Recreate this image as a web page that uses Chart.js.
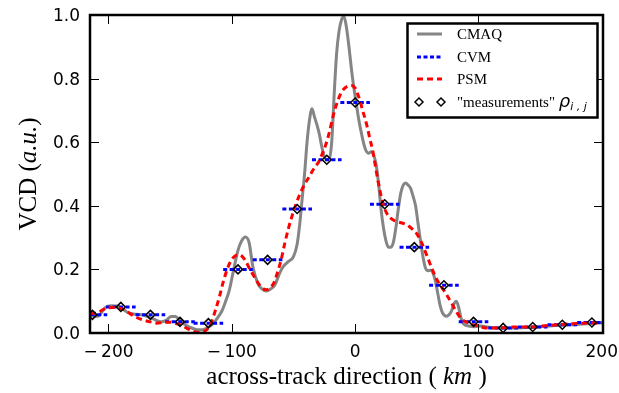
<!DOCTYPE html>
<html>
<head>
<meta charset="utf-8">
<script src="https://cdn.jsdelivr.net/npm/chart.js@4.4.1/dist/chart.umd.min.js"></script>
<style>
  html, body { margin: 0; padding: 0; background: #fff; }
  #wrap { width: 619px; height: 393px; }
</style>
</head>
<body>
<div id="wrap"><canvas id="c" width="619" height="393"></canvas></div>
<script>
// CMAQ model field (gray solid)
const cmaqX = [-215, -211, -208, -205, -202, -198, -193, -189, -185, -180, -175, -170, -165, -160, -157, -153,
  -149, -146, -143, -140, -136, -132, -128, -124, -120, -116, -112, -108, -105, -102, -99, -95, -92, -89, -86,
  -83, -79, -76, -72, -68, -65, -61, -58, -54, -50, -47, -45, -43, -41, -39, -37, -35, -33, -31, -29, -27, -25,
  -23, -21, -19, -17, -15, -13, -11, -9, -7, -5, -3, -1, 1, 3, 5, 7, 9, 11, 13, 15, 17, 19, 21, 23, 25, 27, 29,
  31, 33, 35, 37, 39, 41, 43, 45, 47, 49, 51, 53, 55, 57, 59, 61, 63, 65, 67, 69, 71, 74, 76, 78, 80, 82, 84, 86,
  88, 92, 97, 102, 106, 110, 120, 130, 140, 150, 160, 170, 180, 190, 201];
const cmaqY = [0.058, 0.052, 0.053, 0.068, 0.082, 0.086, 0.085, 0.078, 0.066, 0.06, 0.058, 0.054, 0.047, 0.038, 0.035, 0.041,
  0.052, 0.052, 0.044, 0.032, 0.022, 0.015, 0.01, 0.01, 0.016, 0.026, 0.045, 0.07, 0.1, 0.135, 0.19, 0.26, 0.29, 0.302, 0.285,
  0.21, 0.157, 0.14, 0.132, 0.14, 0.152, 0.19, 0.21, 0.225, 0.24, 0.28, 0.34, 0.42, 0.5, 0.6, 0.67, 0.705, 0.68, 0.655, 0.625, 0.585, 0.555,
  0.545, 0.548, 0.6, 0.75, 0.88, 0.95, 0.985, 0.995, 0.96, 0.9, 0.83, 0.77, 0.72, 0.67, 0.63, 0.595, 0.572, 0.565, 0.57, 0.56, 0.53, 0.47, 0.39, 0.33, 0.29, 0.27, 0.27,
  0.285, 0.33, 0.39, 0.44, 0.465, 0.472, 0.465, 0.455, 0.43, 0.4, 0.345, 0.29, 0.24, 0.205, 0.196, 0.197, 0.19, 0.165, 0.125, 0.085, 0.062, 0.053, 0.057, 0.068, 0.09, 0.1, 0.08, 0.045,
  0.028, 0.022, 0.02, 0.022, 0.02, 0.017, 0.016, 0.016, 0.017, 0.02, 0.023, 0.025, 0.027, 0.03, 0.032];

// PSM reconstruction (red dashed)
const psmX = [-215, -210, -206, -202, -197, -192, -186, -181, -176, -171, -166, -161, -156, -151, -146, -141, -136, -131,
  -127, -123, -119, -116, -113, -110, -107, -104, -101, -98, -95, -92, -89, -86, -83, -80, -77, -74, -72, -69, -66, -63,
  -60, -57, -54, -51, -48, -45, -42, -39, -36, -33, -30, -27, -24, -21, -18, -15, -12, -9, -6, -3, 0, 2, 4, 6, 8, 10,
  12, 14, 16, 18, 20, 22, 24, 27, 30, 34, 38, 42, 46, 50, 54, 58, 62, 66, 70, 74, 78, 82, 86, 90, 95, 100, 106, 117,
  130, 144, 157, 171, 185, 201];
const psmY = [0.062, 0.062, 0.07, 0.078, 0.08, 0.079, 0.07, 0.057, 0.047, 0.04, 0.035, 0.031, 0.033, 0.034, 0.031, 0.024, 0.014, 0.005,
  0.002, 0.004, 0.016, 0.04, 0.075, 0.115, 0.16, 0.198, 0.225, 0.24, 0.246, 0.242, 0.228, 0.205, 0.185, 0.165, 0.148, 0.138, 0.136, 0.142, 0.157, 0.19,
  0.23, 0.283, 0.33, 0.37, 0.405, 0.435, 0.46, 0.48, 0.5, 0.52, 0.535, 0.56, 0.59, 0.63, 0.68, 0.72, 0.75, 0.768, 0.776, 0.778, 0.77, 0.752, 0.73, 0.7, 0.675, 0.645,
  0.61, 0.578, 0.535, 0.49, 0.45, 0.415, 0.39, 0.368, 0.358, 0.35, 0.346, 0.34, 0.328, 0.312, 0.283, 0.245, 0.205, 0.17, 0.145, 0.122, 0.095, 0.068, 0.045, 0.035, 0.027, 0.022, 0.016, 0.016,
  0.019, 0.019, 0.024, 0.028, 0.031, 0.032];

// "measurements" and the CVM cell values
const measX = [-213, -190, -166, -142, -119, -95, -71, -47, -23, 0, 24, 48, 72, 96, 120, 144, 168, 192];
const measY = [0.057, 0.082, 0.057, 0.035, 0.031, 0.2, 0.23, 0.39, 0.545, 0.725, 0.405, 0.27, 0.15, 0.035, 0.016, 0.019, 0.026, 0.033];
const cvmY  = [0.057, 0.082, 0.057, 0.035, 0.031, 0.2, 0.23, 0.39, 0.545, 0.725, 0.405, 0.27, 0.15, 0.035, 0.016, 0.019, 0.026, 0.033];
const cvmHalf = 12;

const xTicks = [-200, -100, 0, 100, 200];
const yTicks = [0, 0.2, 0.4, 0.6, 0.8, 1.0];

function pts(xs, ys) { return xs.map((x, i) => ({x: x, y: ys[i]})); }

// CVM as separate horizontal pieces (null breaks the line)
const cvmData = [];
measX.forEach((x, i) => {
  cvmData.push({x: x - cvmHalf, y: cvmY[i]});
  cvmData.push({x: x + cvmHalf, y: cvmY[i]});
  cvmData.push({x: x + cvmHalf, y: null});
});

const SERIF = '"Liberation Serif", "Times New Roman", serif';
const SANS = '"DejaVu Sans", sans-serif';

function drawParts(ctx, parts, x, y, align) {
  let w = 0;
  parts.forEach(p => { ctx.font = p.font; w += ctx.measureText(p.text).width; });
  let cx = align === 'center' ? x - w / 2 : x;
  parts.forEach(p => {
    ctx.font = p.font;
    ctx.fillText(p.text, cx, y + (p.dy || 0));
    cx += ctx.measureText(p.text).width;
  });
}

function diamond(ctx, x, y, r) {
  ctx.beginPath();
  ctx.moveTo(x, y - r); ctx.lineTo(x + r, y); ctx.lineTo(x, y + r); ctx.lineTo(x - r, y);
  ctx.closePath();
  ctx.stroke();
}

const frame = {
  id: 'frame',
  afterDraw(chart) {
    const ctx = chart.ctx, a = chart.chartArea;
    const xs = chart.scales.x, ys = chart.scales.y;
    ctx.save();
    // inward ticks on all four sides
    ctx.strokeStyle = '#000';
    ctx.lineWidth = 1;
    ctx.beginPath();
    xTicks.forEach(v => {
      const px = Math.round(xs.getPixelForValue(v)) + 0.5;
      ctx.moveTo(px, a.bottom); ctx.lineTo(px, a.bottom - 9);
      ctx.moveTo(px, a.top); ctx.lineTo(px, a.top + 9);
    });
    yTicks.forEach(v => {
      const py = Math.round(ys.getPixelForValue(v)) + 0.5;
      ctx.moveTo(a.left, py); ctx.lineTo(a.left + 9, py);
      ctx.moveTo(a.right, py); ctx.lineTo(a.right - 9, py);
    });
    ctx.stroke();
    ctx.lineWidth = 2.5;
    ctx.strokeRect(a.left, a.top, a.right - a.left, a.bottom - a.top);

    // tick labels
    ctx.fillStyle = '#000';
    ctx.textBaseline = 'alphabetic';
    ctx.font = '17px ' + SANS;
    ctx.textAlign = 'right';
    yTicks.forEach(v => ctx.fillText(v.toFixed(1), a.left - 10, ys.getPixelForValue(v) + 6));
    ctx.textAlign = 'left';
    xTicks.forEach(v => {
      const px = xs.getPixelForValue(v);
      const num = String(Math.abs(v));
      if (v < 0) {
        drawParts(ctx, [{text: '\u2212', font: '17px ' + SANS}, {text: '\u2009' + num, font: '17px ' + SANS}], px, a.bottom + 24, 'center');
      } else {
        drawParts(ctx, [{text: num, font: '17px ' + SANS}], px, a.bottom + 24, 'center');
      }
    });

    // axis titles
    drawParts(ctx, [
      {text: 'across-track direction ( ', font: '25px ' + SERIF},
      {text: 'km', font: 'italic 25px ' + SERIF},
      {text: ' )', font: '25px ' + SERIF}
    ], (a.left + a.right) / 2, 384, 'center');
    ctx.save();
    ctx.translate(36, (a.top + a.bottom) / 2);
    ctx.rotate(-Math.PI / 2);
    drawParts(ctx, [
      {text: 'VCD (', font: '25px ' + SERIF},
      {text: 'a.u.', font: 'italic 25px ' + SERIF},
      {text: ')', font: '25px ' + SERIF}
    ], 0, 0, 'center');
    ctx.restore();

    // legend
    const L = 407.5, T = 23.5, W = 190, H = 94;
    ctx.fillStyle = '#fff';
    ctx.fillRect(L, T, W, H);
    ctx.lineWidth = 2.5;
    ctx.strokeStyle = '#000';
    ctx.strokeRect(L, T, W, H);
    const rows = [34, 57, 79, 102];
    const sx0 = 417, sx1 = 442, tx = 457;
    const samples = chart.data.datasets;
    // CMAQ
    ctx.setLineDash([]);
    ctx.lineWidth = 3; ctx.strokeStyle = samples[0].borderColor;
    ctx.beginPath(); ctx.moveTo(sx0, rows[0]); ctx.lineTo(sx1, rows[0]); ctx.stroke();
    // CVM
    ctx.setLineDash(samples[1].borderDash); ctx.strokeStyle = samples[1].borderColor;
    ctx.beginPath(); ctx.moveTo(sx0, rows[1]); ctx.lineTo(sx1, rows[1]); ctx.stroke();
    // PSM
    ctx.setLineDash(samples[2].borderDash); ctx.strokeStyle = samples[2].borderColor;
    ctx.beginPath(); ctx.moveTo(sx0, rows[2]); ctx.lineTo(sx1, rows[2]); ctx.stroke();
    ctx.setLineDash([]);
    ctx.lineWidth = 1.5; ctx.strokeStyle = '#000';
    diamond(ctx, 419, rows[3], 4);
    diamond(ctx, 441, rows[3], 4);

    ctx.fillStyle = '#000';
    ctx.textAlign = 'left';
    ctx.textBaseline = 'alphabetic';
    ctx.font = '15px ' + SERIF;
    ctx.fillText(samples[0].label, tx, rows[0] + 5);
    ctx.fillText(samples[1].label, tx, rows[1] + 5);
    ctx.fillText(samples[2].label, tx, rows[2] + 5);
    drawParts(ctx, [
      {text: '"measurements" ', font: '15px ' + SERIF},
      {text: '\u03C1', font: 'italic 18px ' + SANS},
      {text: 'i , j', font: 'italic 11px ' + SANS, dy: 3}
    ], tx, rows[3] + 5, 'left');
    ctx.restore();
  }
};

new Chart(document.getElementById('c'), {
  type: 'scatter',
  data: {
    datasets: [
      {
        label: 'CMAQ', data: pts(cmaqX, cmaqY), showLine: true,
        borderColor: '#858585', borderWidth: 3, pointRadius: 0,
        cubicInterpolationMode: 'monotone', order: 3
      },
      {
        label: 'CVM', data: cvmData, showLine: true, spanGaps: false,
        borderColor: '#0000ff', borderWidth: 3, borderDash: [4, 2.5], pointRadius: 0, order: 2
      },
      {
        label: 'PSM', data: pts(psmX, psmY), showLine: true,
        borderColor: '#ff0000', borderWidth: 3, borderDash: [6, 4], pointRadius: 0,
        cubicInterpolationMode: 'monotone', order: 1
      },
      {
        label: '"measurements"', data: pts(measX, measY), showLine: false,
        pointStyle: 'rectRot', pointRadius: 4.5, pointBorderWidth: 1.5,
        pointBorderColor: '#000', pointBackgroundColor: 'rgba(0,0,0,0)', order: 0
      }
    ]
  },
  options: {
    responsive: false,
    animation: false,
    events: [],
    layout: { padding: { left: 0, top: 15, right: 16, bottom: 0 } },
    plugins: { legend: { display: false }, tooltip: { enabled: false } },
    scales: {
      x: {
        type: 'linear', min: -215, max: 201,
        grid: { display: false }, border: { display: false },
        ticks: { display: false },
        afterFit: s => { s.height = 60; }
      },
      y: {
        min: 0, max: 1,
        grid: { display: false }, border: { display: false },
        ticks: { display: false },
        afterFit: s => { s.width = 90; }
      }
    }
  },
  plugins: [frame]
});
</script>
</body>
</html>
